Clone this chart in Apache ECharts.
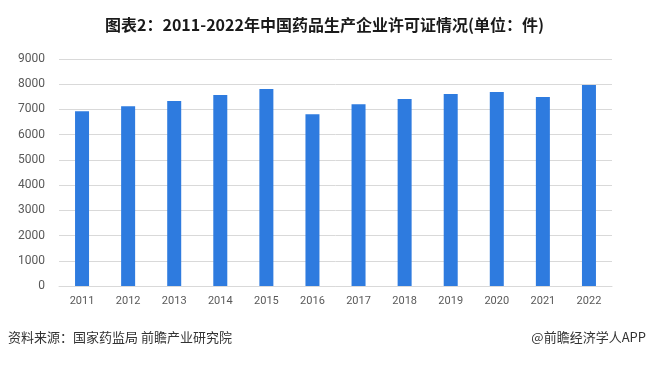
<!DOCTYPE html>
<html><head><meta charset="utf-8">
<script src="https://cdn.jsdelivr.net/npm/echarts@6/dist/echarts.min.js"></script>
<style>html,body{margin:0;padding:0;background:#fff}#c{width:649px;height:366px}</style>
</head><body><div id="c"></div>
<script>
const titleText = '图表2：2011-2022年中国药品生产企业许可证情况(单位：件)';
const sourceText = '资料来源：国家药监局 前瞻产业研究院';
const creditText = '@前瞻经济学人APP';
const years = ['2011','2012','2013','2014','2015','2016','2017','2018','2019','2020','2021','2022'];
const licenses = [6930, 7130, 7330, 7570, 7810, 6810, 7210, 7410, 7610, 7690, 7490, 7974];
const yTicks = [0, 1000, 2000, 3000, 4000, 5000, 6000, 7000, 8000, 9000];

const chart = echarts.init(document.getElementById('c'));
chart.setOption({
  animation: false,
  title: {
    text: titleText, left: 'center', top: 12,
    textStyle: {fontFamily: '"Noto Sans CJK SC", sans-serif', fontSize: 16, fontWeight: 'bold', color: '#1a1a1a'}
  },
  graphic: [
    {type: 'text', left: 8, top: 331, style: {text: sourceText, font: '13px "Noto Sans CJK SC", sans-serif', fill: '#333'}},
    {type: 'text', right: 3, top: 331, style: {text: creditText, font: '13px "Noto Sans CJK SC", sans-serif', fill: '#333'}}
  ],
  grid: {left: 59, right: 37, top: 59, bottom: 80},
  xAxis: {
    type: 'category', data: years,
    axisLine: {lineStyle: {color: '#d9d9d9'}},
    axisTick: {show: false},
    axisLabel: {color: '#595959', fontSize: 11, margin: 10, fontFamily: 'Roboto, sans-serif'}
  },
  yAxis: {
    type: 'value', min: yTicks[0], max: yTicks[yTicks.length - 1], interval: yTicks[1] - yTicks[0],
    axisLine: {show: false}, axisTick: {show: false},
    splitLine: {lineStyle: {color: '#d9d9d9'}},
    axisLabel: {color: '#595959', fontSize: 12, margin: 14, fontFamily: 'Roboto, sans-serif', formatter: v => String(v)}
  },
  series: [{
    type: 'bar', data: licenses, barWidth: 14,
    itemStyle: {color: '#2E7BDF'}
  }]
});
</script></body></html>
